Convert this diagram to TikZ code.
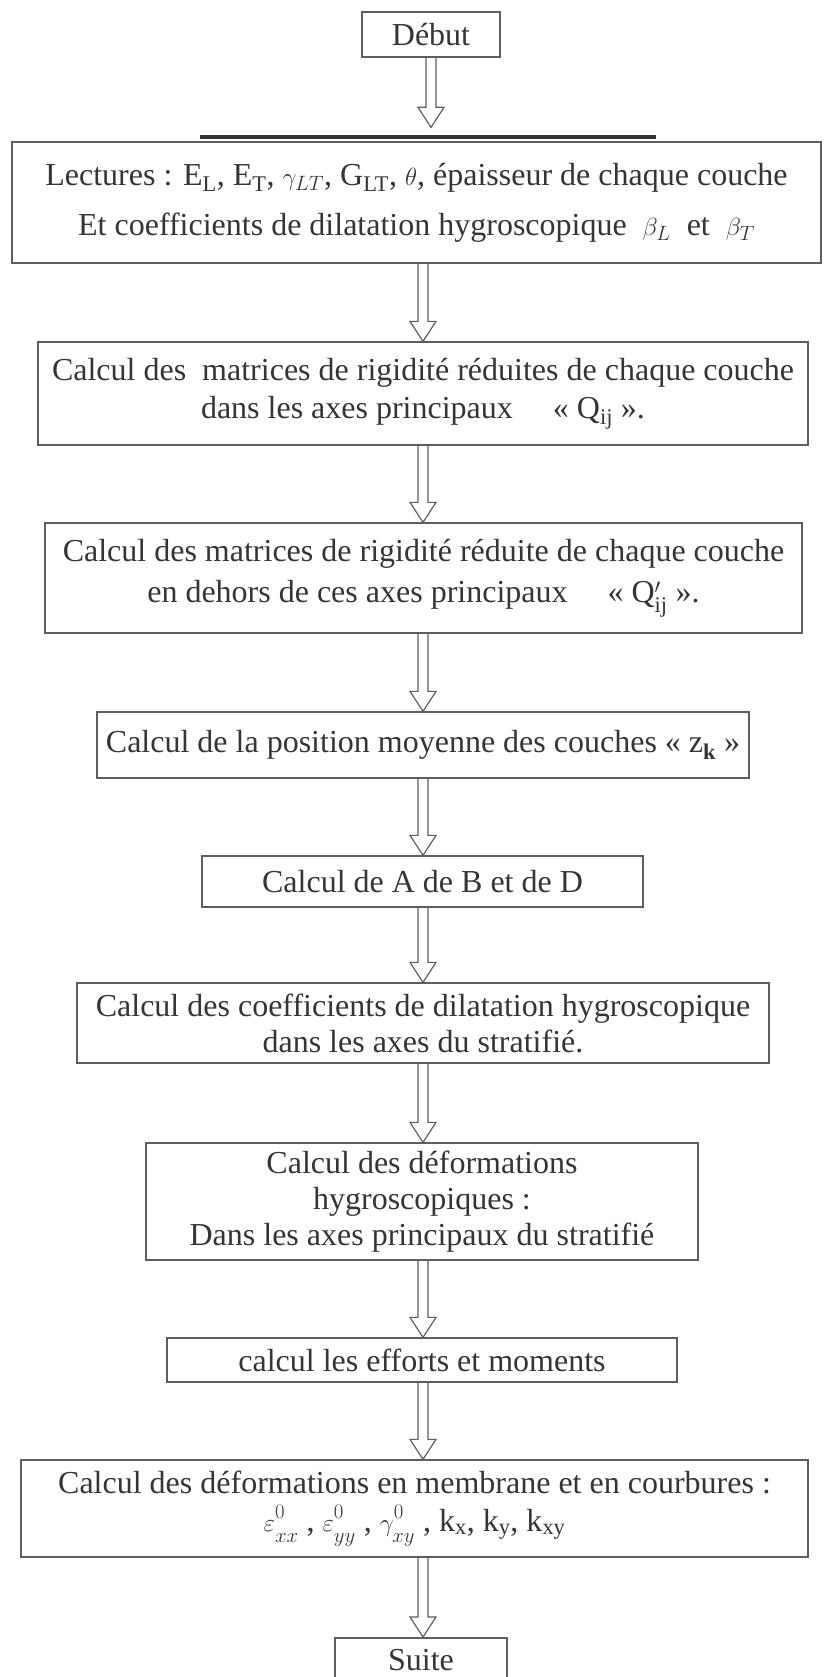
\documentclass[tikz,border=0pt]{standalone}
\usepackage{fontspec}
\setmainfont{Liberation Serif}
\usepackage{amsmath}
\usepackage{tikz}
\usetikzlibrary{calc,positioning}

\definecolor{trait}{HTML}{5E5E5E}
\definecolor{encre}{HTML}{353535}

% deformation avec exposant 0 et indice
\newcommand{\defzero}[2]{$#1^{\raisebox{4pt}{$\scriptstyle 0$}}_{\raisebox{-5pt}{$\scriptstyle #2$}}$}

\tikzset{
	boite/.style = {draw=trait, line width=1.3pt, rectangle, align=center,
		text=encre, inner sep=0pt, font=\fontsize{32}{36}\selectfont},
	fleche/.style = {draw=trait, line width=1.2pt, to path={
		let \p1 = (\tikztostart), \p2 = (\tikztotarget) in
		(\x1-5pt,\y1) -- (\x1-5pt,\y2+20pt) -- (\x1-13pt,\y2+20pt) -- (\x1,\y2)
		-- (\x1+13pt,\y2+20pt) -- (\x1+5pt,\y2+20pt) -- (\x1+5pt,\y1)}}
}

\begin{document}
\begin{tikzpicture}[x=1pt, y=-1pt]

	\useasboundingbox[fill=white] (0,0) rectangle (823,1677);
	\coordinate (axe) at (423,0);

	% boites
	\node[boite, minimum width=138, minimum height=45] (debut) at (431,34.5) {Début};
	\node[boite, minimum width=809, minimum height=121] (lectures) at (416.5,202.5)
		{Lectures : E\textsubscript{L}, E\textsubscript{T}, $\gamma_{LT}$, G\textsubscript{LT}, $\theta$, épaisseur de chaque couche\\[14pt]
		Et coefficients de dilatation hygroscopique \ $\beta_L$ \ et \ $\beta_T$};
	\node[boite, minimum width=770, minimum height=103] (rigid) at (423,393.5)
		{Calcul des \ matrices de rigidité réduites de chaque couche\\[2pt]
		dans les axes principaux \quad « Q\textsubscript{ij} ».};
	\node[boite, minimum width=757, minimum height=110] (rigidhors) at (423.5,578)
		{Calcul des matrices de rigidité réduite de chaque couche\\[5pt]
		en dehors de ces axes principaux \quad « $\mathrm{Q}'_{\mathrm{ij}}$ ».};
	\node[boite, minimum width=652, minimum height=66] (zk) at (423,745)
		{Calcul de la position moyenne des couches « z\textsubscript{\textbf{k}} »};
	\node[boite, minimum width=441, minimum height=51] (abd) at (422.5,881.5)
		{Calcul de A de B et de D};
	\node[boite, minimum width=692, minimum height=80] (coefdil) at (423,1023)
		{Calcul des coefficients de dilatation hygroscopique\\
		dans les axes du stratifié.};
	\node[boite, minimum width=552, minimum height=117] (defhyg) at (422,1201.5)
		{Calcul des déformations\\ hygroscopiques :\\ Dans les axes principaux du stratifié};
	\node[boite, minimum width=510, minimum height=44] (efforts) at (422,1360)
		{calcul les efforts et moments};
	\node[boite, minimum width=787, minimum height=97] (defmem) at (414.5,1508.5)
		{Calcul des déformations en membrane et en courbures :\\[2pt]
		\defzero{\varepsilon}{xx} , \defzero{\varepsilon}{yy} , \defzero{\gamma}{xy} , k\textsubscript{x}, k\textsubscript{y}, k\textsubscript{xy}};
	\node[boite, draw=none] (suite) at (421,1660) {Suite};
	\coordinate (suitehaut) at (423,1637);
	\draw[trait, line width=1.3pt] (335,1690) |- (507,1638) -- (507,1690);

	% trait epais au-dessus de la lecture
	\draw[encre, line width=3.5pt] (200,137) -- (656,137);

	% fleches
	\draw[fleche] (debut.south) to ($(lectures.north -| debut)+(0,-14)$);
	\draw[fleche] (lectures.south -| axe) to (rigid.north -| axe);
	\draw[fleche] (rigid.south -| axe) to (rigidhors.north -| axe);
	\draw[fleche] (rigidhors.south -| axe) to (zk.north -| axe);
	\draw[fleche] (zk.south -| axe) to (abd.north -| axe);
	\draw[fleche] (abd.south -| axe) to (coefdil.north -| axe);
	\draw[fleche] (coefdil.south -| axe) to (defhyg.north -| axe);
	\draw[fleche] (defhyg.south -| axe) to (efforts.north -| axe);
	\draw[fleche] (efforts.south -| axe) to (defmem.north -| axe);
	\draw[fleche] (defmem.south -| axe) to (suitehaut);

\end{tikzpicture}
\end{document}
